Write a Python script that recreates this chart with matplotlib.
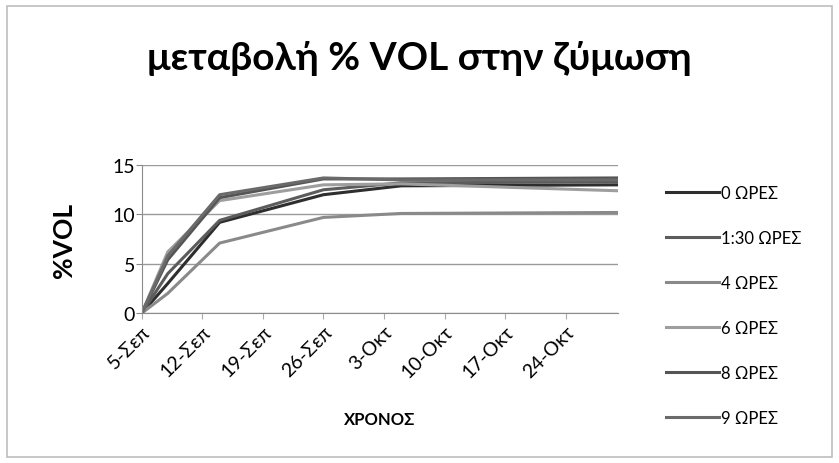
import datetime as dt
import matplotlib
matplotlib.use("Agg")
import matplotlib.pyplot as plt
from matplotlib.patches import Rectangle

plt.rcParams['font.family'] = ['Lato', 'DejaVu Sans']

# measurement days of the fermentation
dates = [dt.date(2011, 9, 5), dt.date(2011, 9, 8), dt.date(2011, 9, 14),
         dt.date(2011, 9, 26), dt.date(2011, 10, 5), dt.date(2011, 10, 30)]

vol_0h = [0, 3.0, 9.2, 12.0, 12.9, 13.0]
vol_1h30 = [0, 4.0, 9.4, 12.5, 13.2, 13.3]
vol_4h = [0, 2.0, 7.1, 9.7, 10.1, 10.2]
vol_6h = [0, 6.2, 11.4, 13.0, 13.1, 12.4]
vol_8h = [0, 5.4, 11.7, 13.6, 13.6, 13.7]
vol_9h = [0, 5.8, 12.0, 13.7, 13.5, 13.5]

labels = ['0 ΩΡΕΣ', '1:30 ΩΡΕΣ', '4 ΩΡΕΣ', '6 ΩΡΕΣ', '8 ΩΡΕΣ', '9 ΩΡΕΣ']
colors = ['#2e2e2e', '#5c5c5c', '#8a8a8a', '#9e9e9e', '#555555', '#6a6a6a']

tick_dates = [dt.date(2011, 9, 5) + dt.timedelta(days=7 * i) for i in range(8)]
tick_labels = ['5-Σεπ', '12-Σεπ', '19-Σεπ', '26-Σεπ', '3-Οκτ', '10-Οκτ', '17-Οκτ', '24-Οκτ']

fig = plt.figure(figsize=(8.39, 4.64), dpi=100)
fig.patches.append(Rectangle((0.008, 0.012), 0.984, 0.972, transform=fig.transFigure,
                             fill=False, edgecolor='#bdbdbd', linewidth=1.2))

ax = fig.add_axes([0.169, 0.323, 0.567, 0.319])
series = [vol_0h, vol_1h30, vol_4h, vol_6h, vol_8h, vol_9h]
for vals, lab, col in zip(series, labels, colors):
    ax.plot(dates, vals, color=col, linewidth=2.2, label=lab)

ax.set_ylim(0, 15)
ax.set_yticks([0, 5, 10, 15])
ax.set_xlim(dt.date(2011, 9, 5), dt.date(2011, 10, 30) + dt.timedelta(hours=12))
ax.set_xticks(tick_dates)
ax.set_xticklabels(tick_labels, rotation=45, ha='right', rotation_mode='anchor', fontsize=14)
ax.tick_params(axis='y', labelsize=14, length=4, color='#888888', pad=1)
ax.tick_params(axis='x', length=4, color='#aaaaaa', pad=3)
ax.grid(axis='y', color='#9a9a9a', linewidth=1)
ax.set_axisbelow(True)
for side in ['top', 'right']:
    ax.spines[side].set_visible(False)
for side in ['left', 'bottom']:
    ax.spines[side].set_color('#8c8c8c')

ax.set_ylabel('%VOL', fontsize=19, fontweight='bold', labelpad=26)
ax.set_xlabel('ΧΡΟΝΟΣ', fontsize=12, fontweight='bold', labelpad=22)

fig.text(0.5, 0.874, 'μεταβολή % VOL στην ζύμωση', ha='center', va='center',
         fontsize=28, fontweight='bold')

ax.legend(loc='upper left', bbox_to_anchor=(1.07, 0.97), frameon=False, fontsize=12,
          handlelength=3.2, handletextpad=0.1, labelspacing=1.74)

fig.savefig('out.png', dpi=100)
